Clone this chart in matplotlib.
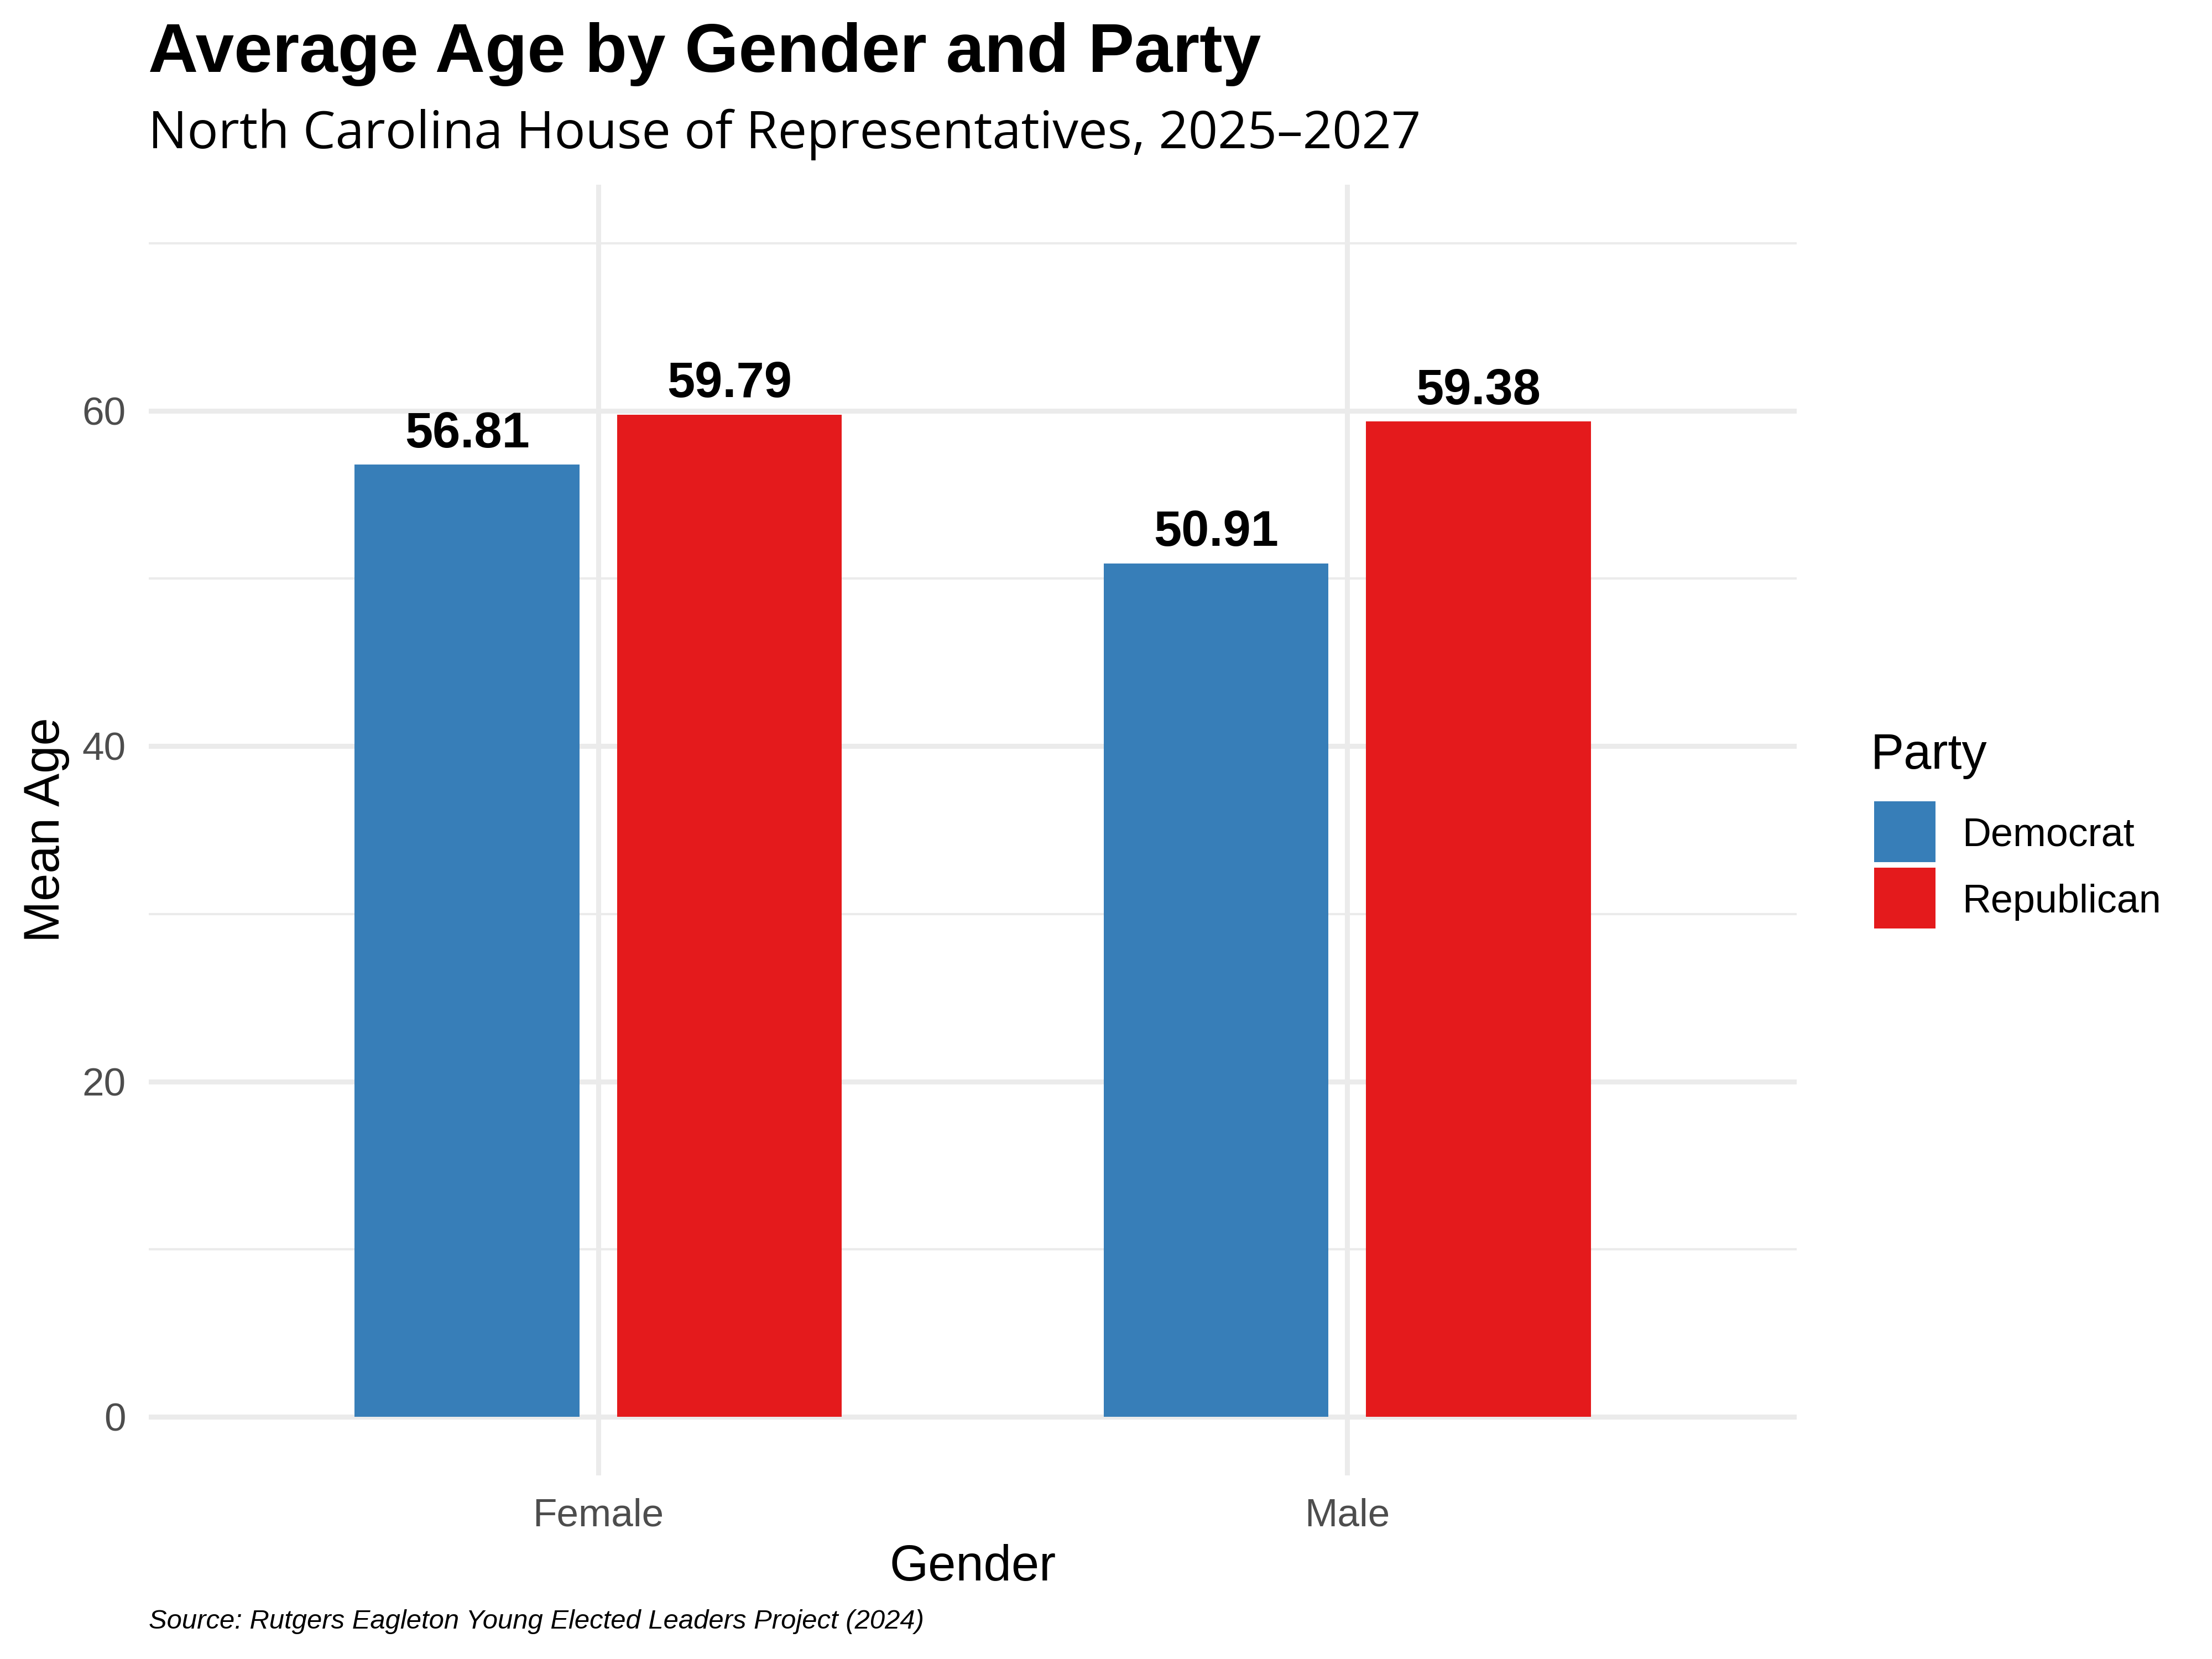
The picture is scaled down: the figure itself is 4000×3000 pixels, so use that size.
import numpy as np
import matplotlib
matplotlib.use("Agg")
import matplotlib.pyplot as plt
from matplotlib.patches import Rectangle

# ---------------------------------------------------------------------------
# Data
# ---------------------------------------------------------------------------
genders = ["Female", "Male"]
parties = ["Democrat", "Republican"]
party_colors = ["#377EB8", "#E41A1C"]
mean_age = {
    "Democrat": [56.81, 50.91],
    "Republican": [59.79, 59.38],
}
y_major = [0, 20, 40, 60]
y_minor = [10, 30, 50, 70]

title = "Average Age by Gender and Party"
subtitle = "North Carolina House of Representatives, 2025\u20132027"
caption = "Source: Rutgers Eagleton Young Elected Leaders Project (2024)"

# ---------------------------------------------------------------------------
# Figure
# ---------------------------------------------------------------------------
W, H, DPI = 4000, 3000, 250
plt.rcParams["font.family"] = ["Liberation Sans", "DejaVu Sans"]

fig = plt.figure(figsize=(W / DPI, H / DPI), dpi=DPI)
fig.patch.set_facecolor("white")


def fx(px):
    return px / W


def fy(py):
    return 1 - py / H


ax = fig.add_axes([fx(269), fy(2668), fx(3249) - fx(269), fy(334) - fy(2668)])

grid_col = "#EBEBEB"
bar_w = 0.3
dodge = 0.175
x = np.arange(len(genders))

for i, party in enumerate(parties):
    xs = x + (-dodge if i == 0 else dodge)
    vals = mean_age[party]
    ax.bar(xs, vals, width=bar_w, color=party_colors[i], zorder=3)
    for xv, v in zip(xs, vals):
        ax.annotate(f"{v:.2f}", xy=(xv, v), xytext=(0, 9),
                    textcoords="offset points", ha="center", va="baseline",
                    fontsize=26, fontweight="bold", color="black", zorder=4)

ax.set_xlim(-0.6, len(genders) - 1 + 0.6)
ax.set_ylim(-3.5, 73.5)

# grid
for yv in y_major:
    ax.axhline(yv, color=grid_col, linewidth=2.6, zorder=1)
for yv in y_minor:
    ax.axhline(yv, color=grid_col, linewidth=1.2, zorder=1)
for xv in x:
    ax.axvline(xv, color=grid_col, linewidth=2.6, zorder=1)

ax.set_xticks(x)
ax.set_xticklabels(genders)
ax.set_yticks(y_major)
ax.set_yticklabels([str(v) for v in y_major])
ax.tick_params(axis="both", length=0, labelsize=20.5, labelcolor="#4D4D4D")
ax.tick_params(axis="y", pad=41 * 72 / DPI)
ax.tick_params(axis="x", pad=40 * 72 / DPI)
for s in ax.spines.values():
    s.set_visible(False)

# axis titles
fig.text(fx(1759), fy(2858), "Gender", ha="center", va="baseline",
         fontsize=26, color="black")
fig.text(fx(107), fy(1501), "Mean Age", ha="center", va="baseline",
         rotation=90, rotation_mode="anchor", fontsize=26, color="black")

# titles
fig.text(fx(268), fy(130), title, ha="left", va="baseline",
         fontsize=36, fontweight="bold", color="black")
fig.text(fx(268), fy(268), subtitle, ha="left", va="baseline",
         fontsize=26.9, color="black", family=["Open Sans", "DejaVu Sans"])
fig.text(fx(269), fy(2945), caption, ha="left", va="baseline",
         fontsize=14.1, style="italic", color="black")

# legend
fig.text(fx(3383), fy(1390), "Party", ha="left", va="baseline",
         fontsize=26, color="black")
key_top = 1449
key_h = 110
key_gap = 10
for i, party in enumerate(parties):
    top = key_top + i * (key_h + key_gap)
    fig.patches.append(Rectangle((fx(3389), fy(top + key_h)), fx(111),
                                 key_h / H, transform=fig.transFigure,
                                 facecolor=party_colors[i], edgecolor="none"))
    fig.text(fx(3548), fy(top + key_h / 2 + 26), party, ha="left",
             va="baseline", fontsize=20.7, color="black")

fig.savefig("out.png", dpi=DPI, facecolor="white")
